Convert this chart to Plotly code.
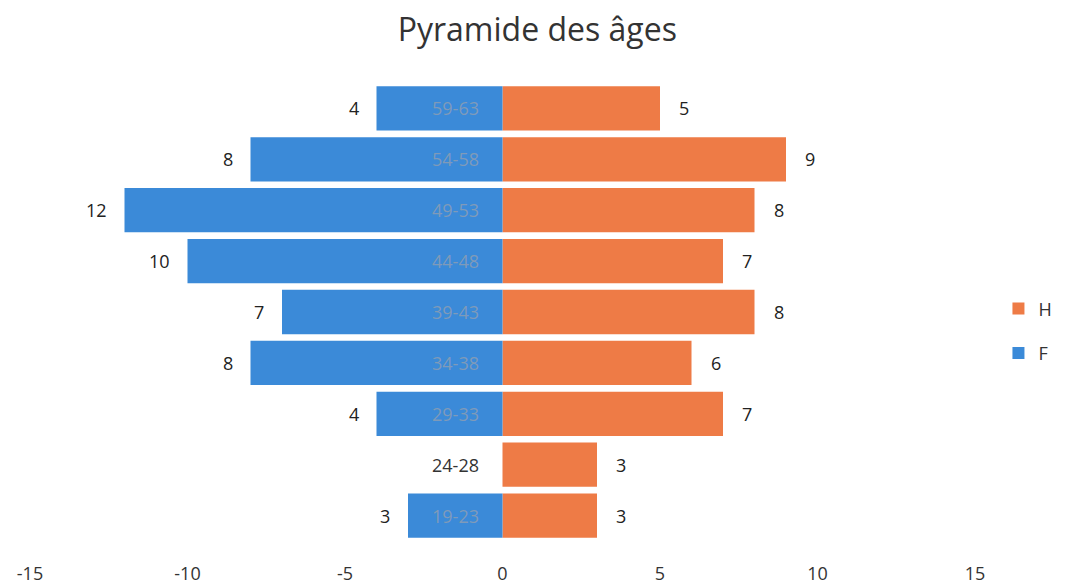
import plotly.graph_objects as go

categories = ["19-23", "24-28", "29-33", "34-38", "39-43", "44-48", "49-53", "54-58", "59-63"]
femmes = [3, 0, 4, 8, 7, 10, 12, 8, 4]
hommes = [3, 3, 7, 6, 8, 7, 8, 9, 5]
x_ticks = [-15, -10, -5, 0, 5, 10, 15]

BLUE = "#3B8AD8"
ORANGE = "#EE7B46"
FONT = "Open Sans, Liberation Sans, sans-serif"

fig = go.Figure()
fig.add_trace(go.Bar(
    y=categories, x=hommes, name="H", orientation="h",
    marker=dict(color=ORANGE, line=dict(width=0)), legendgroup="H",
))
fig.add_trace(go.Bar(
    y=categories, x=[-v for v in femmes], name="F", orientation="h",
    marker=dict(color=BLUE, line=dict(width=0)), legendgroup="F",
))

# value labels
for cat, f in zip(categories, femmes):
    if f:
        fig.add_annotation(x=-f, y=cat, xref="x", yref="y", text=str(f), showarrow=False,
                           xanchor="right", xshift=-16,
                           font=dict(size=18, family=FONT, color="#222222"))
for cat, h in zip(categories, hommes):
    fig.add_annotation(x=h, y=cat, xref="x", yref="y", text=str(h), showarrow=False,
                       xanchor="left", xshift=17,
                       font=dict(size=18, family=FONT, color="#222222"))

# category labels next to the zero axis
for cat, f in zip(categories, femmes):
    fig.add_annotation(
        x=0, y=cat, xref="x", yref="y", text=cat, showarrow=False,
        xanchor="right", xshift=-22,
        font=dict(size=18, family=FONT, color="#333333" if f == 0 else "rgba(150,160,175,0.75)"),
    )

fig.update_layout(
    width=1065, height=585,
    barmode="relative", bargap=0.13,
    plot_bgcolor="white", paper_bgcolor="white",
    margin=dict(l=22, r=98, t=75, b=52, autoexpand=False),
    title=dict(text="Pyramide des âges", x=0.497, xanchor="center", y=0.962, yanchor="middle",
               font=dict(size=32, family=FONT, color="#333333")),
    xaxis=dict(range=[-15, 15], tickvals=x_ticks, ticktext=[str(t) for t in x_ticks],
               showgrid=False, zeroline=False, showline=False, automargin=False,
               ticks="outside", ticklen=16, tickcolor="white",
               tickfont=dict(size=18, family=FONT, color="#333333")),
    yaxis=dict(showticklabels=False, showgrid=False, zeroline=False, showline=False,
               automargin=False),
    legend=dict(xref="container", yref="container", x=0.93, y=0.448,
                xanchor="left", yanchor="middle", traceorder="grouped",
                tracegroupgap=18,
                font=dict(size=18, family=FONT, color="#333333"), itemwidth=30),
    showlegend=True,
)

fig.write_html("out.html")
